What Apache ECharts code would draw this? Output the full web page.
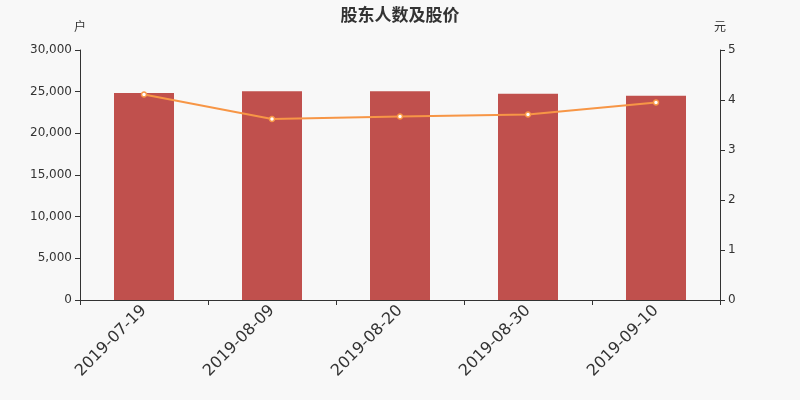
<!DOCTYPE html>
<html>
<head>
<meta charset="utf-8">
<script src="https://cdn.jsdelivr.net/npm/echarts@6/dist/echarts.min.js"></script>
<style>
html, body { margin: 0; padding: 0; background: #f8f8f8; }
#chart { width: 800px; height: 400px; }
</style>
</head>
<body>
<div id="chart"></div>
<script>
// 数据
var dates = ['2019-07-19', '2019-08-09', '2019-08-20', '2019-08-30', '2019-09-10'];
var holders = [24850, 25060, 25040, 24760, 24520];
var prices = [4.11, 3.62, 3.67, 3.71, 3.95];

var chart = echarts.init(document.getElementById('chart'));
var font = 'DejaVu Sans, Noto Sans CJK SC, sans-serif';

var option = {
     backgroundColor: '#f8f8f8',
     animation: false,
     title: {
          text: '股东人数及股价',
          left: 'center',
          top: 3,
          textStyle: {
               fontSize: 17,
               fontWeight: 'bold',
               color: '#333',
               fontFamily: font
          }
     },
     grid: {
          left: 80,
          right: 80,
          top: 50,
          bottom: 100
     },
     xAxis: [{
          type: 'category',
          data: dates,
          boundaryGap: true,
          axisLine: { lineStyle: { color: '#333' } },
          axisTick: { show: true, length: 5, lineStyle: { color: '#333' } },
          axisLabel: {
               rotate: 45,
               fontSize: 16,
               color: '#333',
               fontFamily: font,
               margin: 8
          }
     }],
     yAxis: [{
          type: 'value',
          name: '户',
          min: 0,
          max: 30000,
          interval: 5000,
          nameGap: 16,
          nameTextStyle: { color: '#333', fontFamily: font, fontSize: 12, align: 'center' },
          splitLine: { show: false },
          axisLine: { show: true, lineStyle: { color: '#333' } },
          axisTick: { show: true, length: 5 },
          axisLabel: {
               color: '#333',
               fontFamily: font,
               fontSize: 12,
               formatter: function (v) { return v.toLocaleString('en-US'); }
          }
     }, {
          type: 'value',
          name: '元',
          min: 0,
          max: 5,
          interval: 1,
          nameGap: 16,
          nameTextStyle: { color: '#333', fontFamily: font, fontSize: 12, align: 'center' },
          splitLine: { show: false },
          axisLine: { show: true, lineStyle: { color: '#333' } },
          axisTick: { show: true, length: 5 },
          axisLabel: { color: '#333', fontFamily: font, fontSize: 12 }
     }],
     series: [{
          name: '股东人数',
          type: 'bar',
          data: holders,
          barWidth: 60,
          itemStyle: { color: '#c0504d' }
     }, {
          name: '股价',
          type: 'line',
          yAxisIndex: 1,
          data: prices,
          symbol: 'circle',
          symbolSize: 5,
          lineStyle: { color: '#f79646', width: 2 },
          itemStyle: { color: '#fff', borderColor: '#f79646', borderWidth: 1.5 }
     }]
};

chart.setOption(option);
</script>
</body>
</html>
